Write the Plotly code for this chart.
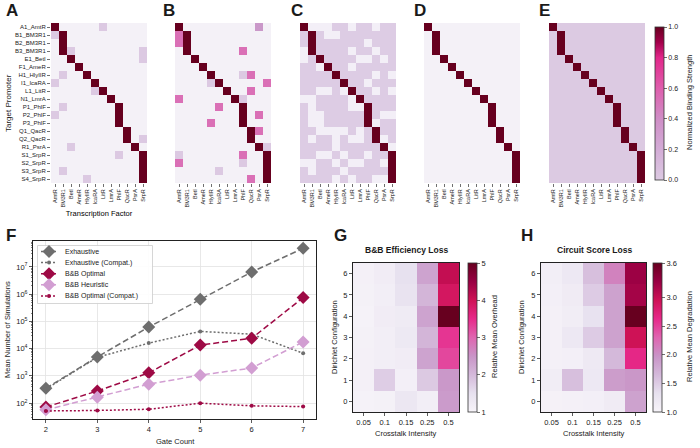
import plotly.graph_objects as go

# ---------------- data ----------------
TF = ["AmtR", "BM3R1", "BetI", "AmeR", "HlyIIR", "IcaRA", "LitR", "LmrA",
      "PhlF", "QacR", "PsrA", "SrpR"]
PROMOTERS = ["A1_AmtR", "B1_BM3R1", "B2_BM3R1", "B3_BM3R1", "E1_BetI", "F1_AmeR",
             "H1_HlyIIR", "I1_IcaRA", "L1_LitR", "N1_LmrA", "P1_PhlF", "P2_PhlF",
             "P3_PhlF", "Q1_QacR", "Q2_QacR", "R1_PsrA", "S1_SrpR", "S2_SrpR",
             "S3_SrpR", "S4_SrpR"]

A_BACKGROUND = 0.02
A_CROSSTALK = [("A1_AmtR", "LitR", 0.2), ("B1_BM3R1", "AmtR", 0.2),
               ("B3_BM3R1", "BetI", 0.2), ("B3_BM3R1", "SrpR", 0.2),
               ("E1_BetI", "SrpR", 0.2), ("H1_HlyIIR", "BM3R1", 0.2),
               ("I1_IcaRA", "AmtR", 0.2), ("L1_LitR", "IcaRA", 0.2),
               ("P1_PhlF", "BM3R1", 0.2), ("P2_PhlF", "AmtR", 0.2),
               ("Q2_QacR", "SrpR", 0.2), ("R1_PsrA", "BetI", 0.2),
               ("S1_SrpR", "PhlF", 0.2), ("S3_SrpR", "BM3R1", 0.2),
               ("S4_SrpR", "HlyIIR", 0.2)]

B_BACKGROUND = 0.02
B_CROSSTALK = [("A1_AmtR", "PsrA", 0.36), ("B1_BM3R1", "AmtR", 0.47),
               ("B2_BM3R1", "AmtR", 0.47), ("B3_BM3R1", "PhlF", 0.47),
               ("H1_HlyIIR", "PhlF", 0.2), ("H1_HlyIIR", "QacR", 0.47),
               ("I1_IcaRA", "HlyIIR", 0.2), ("I1_IcaRA", "SrpR", 0.47),
               ("L1_LitR", "QacR", 0.47), ("N1_LmrA", "AmtR", 0.47),
               ("N1_LmrA", "PhlF", 0.2), ("P1_PhlF", "IcaRA", 0.47),
               ("P2_PhlF", "PsrA", 0.47), ("P3_PhlF", "HlyIIR", 0.47),
               ("Q1_QacR", "PsrA", 0.47), ("R1_PsrA", "SrpR", 0.2),
               ("S1_SrpR", "AmtR", 0.2), ("S1_SrpR", "PhlF", 0.47),
               ("S2_SrpR", "AmtR", 0.47), ("S2_SrpR", "PhlF", 0.2),
               ("S3_SrpR", "IcaRA", 0.2), ("S4_SrpR", "QacR", 0.47)]

w, l = 0.03, 0.19
C_MATRIX = [
    [1, w, w, w, l, l, w, l, l, w, l, l],
    [l, 1, l, w, w, l, l, l, l, l, l, l],
    [l, 1, l, l, l, l, l, l, w, l, l, l],
    [w, 1, l, l, l, l, w, l, l, w, l, l],
    [w, l, 1, l, l, l, l, w, w, l, w, l],
    [l, l, w, 1, l, l, w, l, l, l, l, l],
    [l, l, l, l, 1, l, l, l, l, w, l, w],
    [l, l, l, l, l, 1, l, l, w, l, l, l],
    [l, l, w, w, l, w, 1, l, l, w, l, w],
    [w, w, l, l, l, l, w, 1, l, l, l, l],
    [l, w, l, l, l, l, w, w, 1, l, l, l],
    [l, w, w, l, l, l, l, l, 1, l, w, w],
    [l, w, w, l, l, l, l, l, 1, w, l, l],
    [l, l, w, w, w, w, l, w, l, 1, l, l],
    [l, w, l, l, w, l, w, w, l, 1, w, l],
    [l, l, l, l, w, l, l, l, l, l, 1, w],
    [l, l, w, w, l, w, l, l, w, l, l, 1],
    [w, w, l, l, w, l, w, w, l, l, w, 1],
    [l, w, l, l, l, w, l, l, l, l, l, 1],
    [l, l, l, l, w, l, w, l, l, w, w, 1],
]
D_BACKGROUND = 0.02
E_BACKGROUND = 0.0

GATES = [2, 3, 4, 5, 6, 7]
EXHAUSTIVE = [350, 5000, 62000, 650000, 6.5e6, 4.8e7]
EXHAUSTIVE_COMPAT = [330, 4800, 16000, 43000, 34000, 6800]
BB_OPTIMAL = [72, 280, 1300, 13500, 24000, 750000]
BB_HEURISTIC = [57, 165, 500, 1070, 1950, 17700]
BB_OPTIMAL_COMPAT = [52, 54, 60, 100, 80, 75]

CROSSTALK = ["0.05", "0.1", "0.15", "0.25", "0.5"]
DIRICHLET = [0, 1, 2, 3, 4, 5, 6]
G_OVERHEAD = [
    [1.05, 1.08, 1.35, 1.15, 2.40],
    [1.10, 1.75, 1.12, 1.80, 2.45],
    [1.10, 1.15, 1.20, 2.30, 3.25],
    [1.08, 1.15, 1.30, 2.05, 3.40],
    [1.06, 1.20, 1.25, 2.30, 5.00],
    [1.08, 1.15, 1.45, 2.05, 3.90],
    [1.10, 1.20, 1.50, 2.30, 4.10],
]
H_DEGRADATION = [
    [1.05, 1.07, 1.08, 1.15, 1.85],
    [1.12, 1.60, 1.20, 1.90, 1.95],
    [1.07, 1.08, 1.18, 1.65, 2.65],
    [1.07, 1.20, 1.50, 1.85, 2.95],
    [1.07, 1.12, 1.30, 1.85, 3.60],
    [1.08, 1.15, 1.50, 1.85, 3.20],
    [1.10, 1.20, 1.60, 2.10, 3.25],
]

# ---------------- helpers ----------------
W, H = 700, 448
FONT = "Liberation Sans, Arial, sans-serif"
INK = "#1a1a1a"


def xd(a, b):
    return [a / W, b / W]


def yd(a, b):
    return [1 - b / H, 1 - a / H]


def cognate_matrix(background, crosstalk):
    z = [[background] * len(TF) for _ in PROMOTERS]
    for i, p in enumerate(PROMOTERS):
        z[i][TF.index(p.split("_")[1])] = 1.0
    for p, t, v in crosstalk:
        z[PROMOTERS.index(p)][TF.index(t)] = v
    return z


PURD = [[0, "#f7f4f9"], [0.125, "#e7e1ef"], [0.25, "#d4b9da"], [0.375, "#c994c7"],
        [0.5, "#df65b0"], [0.625, "#e7298a"], [0.75, "#ce1256"], [0.875, "#980043"],
        [1, "#67001f"]]
BIND = [[0, "#dccae2"], [0.2, "#d3acd6"], [0.4, "#cf8ec6"], [0.6, "#de5eac"],
        [0.8, "#e2278a"], [0.9, "#a3004a"], [1, "#67001f"]]

fig = go.Figure()

heat_x = [(51, 147), (175, 271), (300, 396), (424, 520), (549, 645)]
heat_y = (23, 183)
mats = [cognate_matrix(A_BACKGROUND, A_CROSSTALK),
        cognate_matrix(B_BACKGROUND, B_CROSSTALK),
        C_MATRIX,
        cognate_matrix(D_BACKGROUND, []),
        cognate_matrix(E_BACKGROUND, [])]

layout_axes = {}
for k in range(5):
    n = k + 1
    xa = "x" if n == 1 else f"x{n}"
    ya = "y" if n == 1 else f"y{n}"
    tr = dict(z=mats[k], x=TF, y=PROMOTERS, zmin=0, zmax=1, xaxis=xa, yaxis=ya,
              hoverinfo="skip")
    if k == 4:
        tr.update(colorscale=BIND, showscale=True,
                  colorbar=dict(x=655 / W, xanchor="left", xpad=0, ypad=0,
                                y=1 - 27 / H, yanchor="top", len=(180 - 27) / H,
                                lenmode="fraction", thickness=9,
                                outlinewidth=0.8, outlinecolor="#333",
                                tickvals=[0, 0.2, 0.4, 0.6, 0.8, 1.0],
                                ticktext=["0.0", "0.2", "0.4", "0.6", "0.8", "1.0"],
                                ticks="outside", ticklen=3, tickwidth=0.7,
                                tickcolor="#333",
                                tickfont=dict(size=7, color=INK)))
    else:
        tr.update(colorscale=PURD, showscale=False)
    fig.add_trace(go.Heatmap(**tr))
    xn = "xaxis" if n == 1 else f"xaxis{n}"
    yn = "yaxis" if n == 1 else f"yaxis{n}"
    layout_axes[xn] = dict(domain=xd(*heat_x[k]), anchor=ya, type="category",
                           tickangle=-90, tickfont=dict(size=5.5, color=INK),
                           ticks="outside", ticklen=3, tickwidth=0.7, tickcolor="#333",
                           showgrid=False, zeroline=False, showline=False)
    layout_axes[yn] = dict(domain=yd(*heat_y), anchor=xa, type="category",
                           autorange="reversed", showgrid=False, zeroline=False,
                           showline=False,
                           showticklabels=(k == 0), ticks="outside" if k == 0 else "",
                           ticklen=3, tickwidth=0.7, tickcolor="#333",
                           tickfont=dict(size=6, color=INK))
# x-axis title of panel A drawn as the axis' own title
layout_axes["xaxis"]["title"] = dict(text="Transcription Factor", standoff=4,
                                     font=dict(size=7.5, color="#000000", family=FONT))

# ---------------- panel F ----------------
GRAY = "#6e6e6e"
RED = "#9e0a45"
PINK = "#d29ed2"
series = [
    ("Exhaustive", EXHAUSTIVE, GRAY, "6px,3px", "diamond", 10),
    ("Exhaustive (Compat.)", EXHAUSTIVE_COMPAT, GRAY, "2px,2px", "circle", 4),
    ("B&B Optimal", BB_OPTIMAL, RED, "6px,3px", "diamond", 10),
    ("B&B Heuristic", BB_HEURISTIC, PINK, "6px,3px", "diamond", 10),
    ("B&B Optimal (Compat.)", BB_OPTIMAL_COMPAT, RED, "2px,2px", "circle", 4),
]
for name, vals, col, dash, sym, size in series:
    fig.add_trace(go.Scatter(x=GATES, y=vals, name=name, mode="lines+markers",
                             line=dict(color=col, width=1.5, dash=dash),
                             marker=dict(symbol=sym, size=size, color=col),
                             xaxis="x6", yaxis="y6", hoverinfo="skip",
                             showlegend=False))

minor_vals = [m * 10 ** e for e in range(1, 8) for m in range(2, 10)]
layout_axes["xaxis6"] = dict(domain=xd(33, 316), anchor="y6", range=[1.75, 7.25],
                             tickvals=GATES, ticks="outside", ticklen=3, tickwidth=0.8,
                             tickcolor="#333",
                             showgrid=True, gridcolor="#e2e2e2", gridwidth=0.8,
                             showline=True, mirror=True, linecolor="#222", linewidth=1,
                             zeroline=False, tickfont=dict(size=7.5, color=INK))
layout_axes["yaxis6"] = dict(domain=yd(241, 419), anchor="x6", type="log",
                             range=[1.42, 7.95],
                             tickvals=[1e2, 1e3, 1e4, 1e5, 1e6, 1e7],
                             ticktext=[f"10<sup>{e}</sup>" for e in range(2, 8)],
                             ticks="outside", ticklen=3, tickwidth=0.8, tickcolor="#333",
                             minor=dict(tickvals=minor_vals, ticks="outside", ticklen=1.5,
                                        tickwidth=0.6, tickcolor="#333", showgrid=False),
                             showgrid=True, gridcolor="#e2e2e2", gridwidth=0.8,
                             showline=True, mirror=True, linecolor="#222", linewidth=1,
                             zeroline=False, tickfont=dict(size=7.5, color=INK))

# compact legend for panel F, drawn in a small overlay box (pixel units)
LX0, LX1, LY0, LY1 = 37, 153, 245, 304
layout_axes["xaxis9"] = dict(domain=xd(LX0, LX1), anchor="y9", range=[LX0, LX1],
                             visible=False, fixedrange=True)
layout_axes["yaxis9"] = dict(domain=yd(LY0, LY1), anchor="x9", range=[LY1, LY0],
                             visible=False, fixedrange=True)
fig.add_trace(go.Scatter(x=[LX0 + 0.5, LX1 - 0.5, LX1 - 0.5, LX0 + 0.5, LX0 + 0.5],
                         y=[LY0 + 0.5, LY0 + 0.5, LY1 - 0.5, LY1 - 0.5, LY0 + 0.5],
                         mode="lines", fill="toself", fillcolor="rgba(255,255,255,0.9)",
                         line=dict(color="#cccccc", width=0.8), xaxis="x9", yaxis="y9",
                         hoverinfo="skip", showlegend=False))
legend_ann = []
for i, (name, vals, col, dash, sym, size) in enumerate(series):
    yy = 251.5 + 11.1 * i
    fig.add_trace(go.Scatter(x=[41, 49, 57], y=[yy, yy, yy], mode="lines",
                             line=dict(color=col, width=1.5, dash=dash),
                             xaxis="x9", yaxis="y9", hoverinfo="skip", showlegend=False))
    fig.add_trace(go.Scatter(x=[49], y=[yy], mode="markers",
                             marker=dict(symbol=sym, size=size, color=col),
                             xaxis="x9", yaxis="y9", hoverinfo="skip", showlegend=False))
    legend_ann.append((63, yy, name))

# ---------------- panels G, H ----------------
for n, zvals, zmax, x0, x1, cbx, tv, tt in [
        (7, G_OVERHEAD, 5.0, 353, 459, 468, [1, 2, 3, 4, 5], ["1", "2", "3", "4", "5"]),
        (8, H_DEGRADATION, 3.6, 541, 646, 653, [1.0, 1.5, 2.0, 2.5, 3.0, 3.599],
         ["1.0", "1.5", "2.0", "2.5", "3.0", "3.6"])]:
    fig.add_trace(go.Heatmap(z=zvals, x=CROSSTALK, y=DIRICHLET, colorscale=PURD,
                             zmin=1.0, zmax=zmax, xaxis=f"x{n}", yaxis=f"y{n}",
                             hoverinfo="skip",
                             colorbar=dict(x=cbx / W, xanchor="left", xpad=0, ypad=0,
                                           y=1 - 263 / H, yanchor="top",
                                           len=(412 - 263) / H, lenmode="fraction",
                                           thickness=9, outlinewidth=0.8,
                                           outlinecolor="#333", tickvals=tv, ticktext=tt,
                                           ticks="outside", ticklen=3, tickwidth=0.7,
                                           tickcolor="#333",
                                           tickfont=dict(size=7.5, color=INK))))
    layout_axes[f"xaxis{n}"] = dict(domain=xd(x0, x1), anchor=f"y{n}", type="category",
                                    ticks="outside", ticklen=3, tickwidth=0.8,
                                    tickcolor="#333",
                                    showline=True, mirror=True, linecolor="#222",
                                    linewidth=1, showgrid=False, zeroline=False,
                                    tickfont=dict(size=7.5, color=INK))
    layout_axes[f"yaxis{n}"] = dict(domain=yd(263, 412), anchor=f"x{n}",
                                    range=[-0.5, 6.5], tickvals=DIRICHLET,
                                    ticks="outside", ticklen=3, tickwidth=0.8,
                                    tickcolor="#333",
                                    showline=True, mirror=True, linecolor="#222",
                                    linewidth=1, showgrid=False, zeroline=False,
                                    tickfont=dict(size=7.5, color=INK))

# ---------------- annotations ----------------
ann = []


def text(x, y, s, size=8, bold=False, angle=0, xanchor="center", yanchor="middle"):
    ann.append(dict(x=x / W, y=1 - y / H, xref="paper", yref="paper", text=s,
                    showarrow=False, textangle=angle, xanchor=xanchor, yanchor=yanchor,
                    font=dict(size=size, family=FONT, color=INK,
                              weight=700 if bold else 400)))


for letter, lx, ly in [("A", 4, 11), ("B", 161, 11), ("C", 289, 11), ("D", 412, 11),
                       ("E", 537, 11), ("F", 4, 235), ("G", 332, 235), ("H", 519, 235)]:
    text(lx, ly, letter, size=17, bold=True, xanchor="left")

for lx, ly, name in legend_ann:
    text(lx, ly, name, size=7, xanchor="left")

text(8, 103, "Target Promoter", size=8, angle=-90)
text(689, 103, "Normalized Binding Strength", size=7.5, angle=-90)
text(7, 330, "Mean Number of Simulations", size=7.5, angle=-90)
text(175, 441, "Gate Count", size=7.5)
text(406, 250, "B&B Efficiency Loss", size=8.5, bold=True)
text(594, 250, "Circuit Score Loss", size=8.5, bold=True)
text(406, 433, "Crosstalk Intensity", size=7.5)
text(594, 433, "Crosstalk Intensity", size=7.5)
text(334, 337, "Dirichlet Configuration", size=7.5, angle=-90)
text(521, 337, "Dirichlet Configuration", size=7.5, angle=-90)
text(494, 337, "Relative Mean Overhead", size=7.5, angle=-90)
text(689, 337, "Relative Mean Degradation", size=7.5, angle=-90)

fig.update_layout(
    template="none",
    width=W, height=H, margin=dict(l=0, r=0, t=0, b=0),
    paper_bgcolor="white", plot_bgcolor="rgba(0,0,0,0)",
    font=dict(family=FONT, size=8, color=INK),
    annotations=ann,
    showlegend=False,
    hovermode=False,
    dragmode=False,
    **layout_axes,
)

fig.write_html("out.html",
               config={"displayModeBar": False, "staticPlot": True},
               post_script="document.body.style.margin='0';"
                           "document.body.style.overflow='hidden';")
